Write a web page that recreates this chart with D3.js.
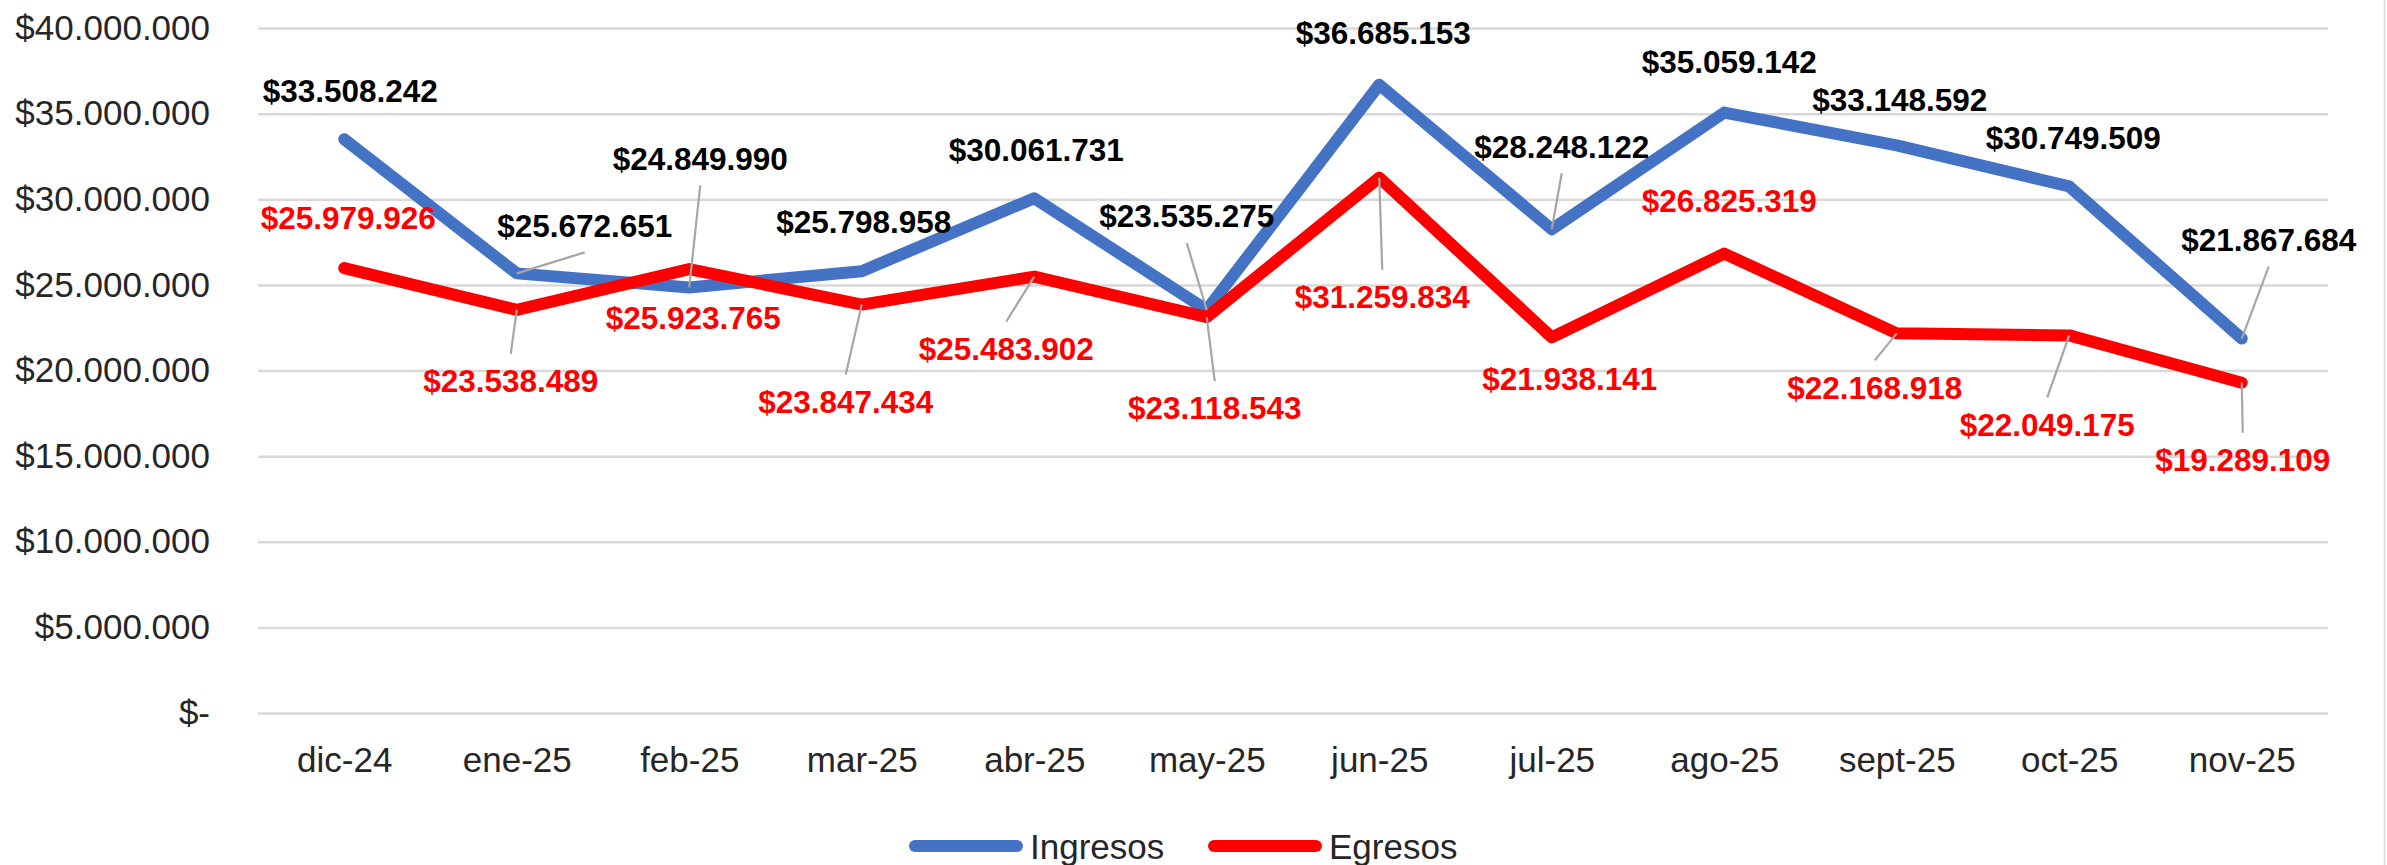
<!DOCTYPE html>
<html>
<head>
<meta charset="utf-8">
<script src="https://cdn.jsdelivr.net/npm/d3@7"></script>
<style>
  html, body { margin: 0; padding: 0; background: #fff; }
  svg { display: block; font-family: "Liberation Sans", Arial, sans-serif; }
</style>
</head>
<body>
<svg id="chart" width="2387" height="865"></svg>
<script>
const months = ["dic-24", "ene-25", "feb-25", "mar-25", "abr-25", "may-25",
  "jun-25", "jul-25", "ago-25", "sept-25", "oct-25", "nov-25"];

const ingresos = [33508242, 25672651, 24849990, 25798958, 30061731, 23535275,
  36685153, 28248122, 35059142, 33148592, 30749509, 21867684];

const egresos = [25979926, 23538489, 25923765, 23847434, 25483902, 23118543,
  31259834, 21938141, 26825319, 22168918, 22049175, 19289109];

const yTicks = [0, 5e6, 10e6, 15e6, 20e6, 25e6, 30e6, 35e6, 40e6];

// where each data label was dragged to (offset from its point, px) + leader flag
const ingresosLabelPos = [
  [6, -49, 0], [68, -48, 1], [11, -129, 1], [2, -50, 0], [2, -49, 0], [-20, -94, 1],
  [4, -52, 0], [10, -83, 1], [5, -51, 0], [3, -46, 0], [4, -49, 0], [27, -99, 1],
];
const egresosLabelPos = [
  [4, -50, 0], [-6, 71, 1], [4, 49, 0], [-16, 97, 1], [-28, 72, 1], [8, 91, 1],
  [3, 119, 1], [18, 41, 0], [5, -53, 0], [-22, 54, 1], [-22, 89, 1], [1, 77, 1],
];

const MARGIN = { left: 258, right: 59, top: 28, bottom: 152 };
const width = 2387;
const height = 865;

const locale = d3.formatLocale({
  decimal: ",",
  thousands: ".",
  grouping: [3],
  currency: ["$", ""],
});
const money = locale.format("$,.0f");
const tickFmt = (d) => (d === 0 ? "$-" : money(d));

const svg = d3.select("#chart");

svg.append("rect").attr("width", width).attr("height", height).attr("fill", "#fff");

// chart border (only the right edge is visible in the crop)
svg
  .append("line")
  .attr("x1", 2384.5)
  .attr("x2", 2384.5)
  .attr("y1", 0)
  .attr("y2", height)
  .attr("stroke", "#D9D9D9")
  .attr("stroke-width", 1.5);

const xScale = d3
  .scalePoint()
  .domain(months)
  .range([MARGIN.left, width - MARGIN.right])
  .padding(0.5);

const yScale = d3
  .scaleLinear()
  .domain([0, 40e6])
  .range([height - MARGIN.bottom, MARGIN.top]);

const plotW = width - MARGIN.right - MARGIN.left;

const yAxis = d3
  .axisLeft(yScale)
  .tickValues(yTicks)
  .tickFormat(tickFmt)
  .tickSizeInner(-plotW)
  .tickSizeOuter(0)
  .tickPadding(48);

const gy = svg
  .append("g")
  .attr("class", "y-axis")
  .attr("transform", `translate(${MARGIN.left},0)`)
  .call(yAxis);

gy.select(".domain").remove();
gy.selectAll(".tick line").attr("stroke", "#D9D9D9").attr("stroke-width", 2.5);
gy.selectAll(".tick text")
  .attr("fill", "#262626")
  .style("font-size", "35px")
  .style("font-family", '"Liberation Sans", Arial, sans-serif');

const xAxis = d3.axisBottom(xScale).tickSize(0).tickPadding(34);

const gx = svg
  .append("g")
  .attr("class", "x-axis")
  .attr("transform", `translate(0,${height - MARGIN.bottom})`)
  .call(xAxis);

gx.select(".domain").remove();
gx.selectAll(".tick text")
  .attr("fill", "#262626")
  .style("font-size", "35px")
  .style("font-family", '"Liberation Sans", Arial, sans-serif');

const series = [
  { name: "Ingresos", values: ingresos, color: "#4472C4", labelColor: "#000", pos: ingresosLabelPos },
  { name: "Egresos", values: egresos, color: "#FF0000", labelColor: "#FF0000", pos: egresosLabelPos },
];

const line = d3
  .line()
  .x((d, i) => xScale(months[i]))
  .y((d) => yScale(d));

series.forEach((s) => {
  svg
    .append("path")
    .datum(s.values)
    .attr("d", line)
    .attr("fill", "none")
    .attr("stroke", s.color)
    .attr("stroke-width", 12)
    .attr("stroke-linejoin", "round")
    .attr("stroke-linecap", "round");
});

// leader lines, then labels on top
series.forEach((s) => {
  const g = svg.append("g").attr("class", "labels-" + s.name);

  s.values.forEach((v, i) => {
    const px = xScale(months[i]);
    const py = yScale(v);
    const [dx, dy, leader] = s.pos[i];
    const lx = px + dx;
    const ly = py + dy;

    if (leader) {
      const edge = dy < 0 ? ly + 27 : ly - 27;
      g.append("line")
        .attr("x1", lx)
        .attr("y1", edge)
        .attr("x2", px)
        .attr("y2", py)
        .attr("stroke", "#A6A6A6")
        .attr("stroke-width", 2.2);
    }

    g.append("text")
      .attr("x", lx)
      .attr("y", ly)
      .attr("dy", "0.36em")
      .attr("text-anchor", "middle")
      .attr("fill", s.labelColor)
      .style("font-size", "31.5px")
      .style("font-weight", "bold")
      .text(money(v));
  });
});

// legend
const legend = svg.append("g").attr("class", "legend");
const legendItems = [
  { s: series[0], x: 909 },
  { s: series[1], x: 1208 },
];
legendItems.forEach(({ s, x }) => {
  legend
    .append("line")
    .attr("x1", x + 6)
    .attr("x2", x + 108)
    .attr("y1", 846)
    .attr("y2", 846)
    .attr("stroke", s.color)
    .attr("stroke-width", 12)
    .attr("stroke-linecap", "round");
  legend
    .append("text")
    .attr("x", x + 121)
    .attr("y", 846)
    .attr("dy", "0.36em")
    .attr("fill", "#262626")
    .style("font-size", "35px")
    .text(s.name);
});
</script>
</body>
</html>
